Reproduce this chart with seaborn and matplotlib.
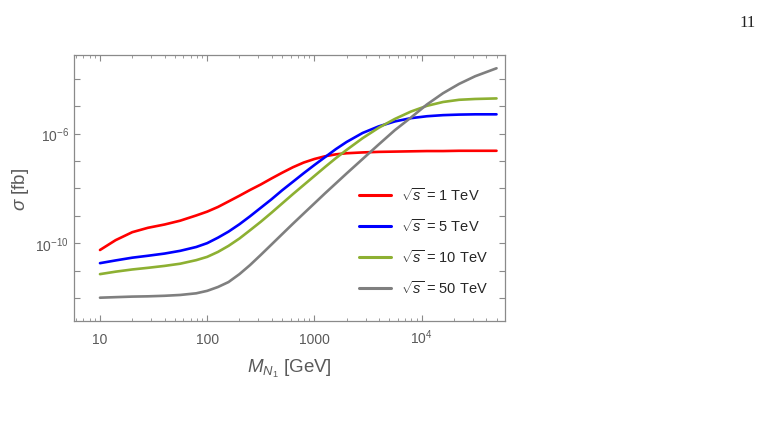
import numpy as np
import pandas as pd
import matplotlib
matplotlib.use("Agg")
import matplotlib.pyplot as plt
import matplotlib.ticker as mticker
import seaborn as sns

# ---- data ----
mass = [10, 14, 20, 28, 40, 56, 79, 100, 126, 158, 200, 251, 316, 398, 501, 631, 794,
        1000, 1259, 1585, 1995, 2818, 3981, 5623, 7943, 11220, 15849, 22387, 31623, 50000]
logsig_1TeV = [-10.25, -9.89, -9.60, -9.44, -9.32, -9.18, -8.99, -8.85, -8.68, -8.48,
               -8.27, -8.06, -7.86, -7.64, -7.43, -7.23, -7.06, -6.93, -6.83, -6.76,
               -6.72, -6.69, -6.67, -6.66, -6.65, -6.64, -6.64, -6.63, -6.63, -6.63]
logsig_5TeV = [-10.73, -10.63, -10.53, -10.46, -10.38, -10.28, -10.14, -10.00, -9.80, -9.58,
               -9.31, -9.02, -8.71, -8.40, -8.07, -7.76, -7.45, -7.15, -6.86, -6.57,
               -6.31, -5.98, -5.74, -5.56, -5.44, -5.37, -5.33, -5.31, -5.30, -5.30]
logsig_10TeV = [-11.13, -11.04, -10.96, -10.90, -10.83, -10.75, -10.62, -10.50, -10.32, -10.10,
                -9.83, -9.53, -9.22, -8.89, -8.55, -8.21, -7.88, -7.55, -7.22, -6.90,
                -6.60, -6.17, -5.79, -5.47, -5.20, -4.99, -4.85, -4.77, -4.74, -4.72]
logsig_50TeV = [-11.99, -11.97, -11.95, -11.94, -11.92, -11.89, -11.83, -11.74, -11.60, -11.42,
                -11.13, -10.80, -10.43, -10.05, -9.67, -9.29, -8.92, -8.55, -8.18, -7.82,
                -7.46, -6.93, -6.40, -5.88, -5.42, -4.94, -4.53, -4.19, -3.91, -3.62]
labels = [r"$\sqrt{s}$ = 1 TeV", r"$\sqrt{s}$ = 5 TeV", r"$\sqrt{s}$ = 10 TeV", r"$\sqrt{s}$ = 50 TeV"]
colors = ["#FF0000", "#0000FF", "#8DB032", "#7F7F7F"]
xtick_vals = [10, 100, 1000, 10000]
xtick_labels = ["10", "100", "1000", r"$10^4$"]
ytick_label_exps = [-6, -10]
ytick_labels = [r"$10^{-6}$", r"$10^{-10}$"]

rows = []
for lab, ls in zip(labels, [logsig_1TeV, logsig_5TeV, logsig_10TeV, logsig_50TeV]):
    for m, v in zip(mass, ls):
        rows.append({"M": m, "sigma": 10.0 ** v, "series": lab})
df = pd.DataFrame(rows)

sns.set_style("ticks")
plt.rcParams["font.family"] = ["Liberation Sans", "DejaVu Sans"]
plt.rcParams["mathtext.fontset"] = "custom"
plt.rcParams["mathtext.rm"] = "Liberation Sans"
plt.rcParams["mathtext.it"] = "Liberation Sans:italic"

fig = plt.figure(figsize=(7.69, 4.27), dpi=100)
ax = fig.add_axes([0.0962, 0.2459, 0.5605, 0.623])

sns.lineplot(data=df, x="M", y="sigma", hue="series", palette=colors,
             linewidth=1.9, ax=ax, legend=True)
ax.set_xscale("log")
ax.set_yscale("log")
ax.set_xlim(5.72, 6.0e4)
ax.set_ylim(10 ** -12.84, 10 ** -3.135)

framec = "#8a8a8a"
for s in ax.spines.values():
    s.set_color(framec)
    s.set_linewidth(0.9)

ax.xaxis.set_major_locator(mticker.FixedLocator(xtick_vals))
ax.xaxis.set_major_formatter(mticker.FixedFormatter(xtick_labels))
ax.xaxis.set_minor_locator(mticker.LogLocator(base=10, subs=np.arange(2, 10), numticks=20))
ax.xaxis.set_minor_formatter(mticker.NullFormatter())


def yfmt(v, p):
    e = int(round(np.log10(v)))
    return ytick_labels[ytick_label_exps.index(e)] if e in ytick_label_exps else ""


ax.yaxis.set_major_locator(mticker.FixedLocator([10.0 ** k for k in range(-12, -3)]))
ax.yaxis.set_major_formatter(mticker.FuncFormatter(yfmt))
ax.yaxis.set_minor_locator(mticker.NullLocator())

ax.tick_params(axis="both", which="major", direction="in", length=4, width=0.8,
               color=framec, labelcolor="#5a5a5a", labelsize=10, top=True, right=True)
ax.tick_params(axis="both", which="minor", direction="in", length=2.5, width=0.6,
               color=framec, top=True, right=True)
ax.tick_params(axis="x", pad=15.5)
for lbl in ax.get_xticklabels():
    lbl.set_verticalalignment("baseline")

ax.set_xlabel(r"$M_{N_1}$ [GeV]", fontsize=13.5, color="#5a5a5a")
ax.xaxis.set_label_coords(0.5, -0.135)
ax.set_ylabel(r"$\sigma$ [fb]", fontsize=13.5, color="#5a5a5a")
ax.yaxis.set_label_coords(-0.1, 0.5)

leg = ax.legend(loc="upper left", bbox_to_anchor=(0.63, 0.555), frameon=False,
                fontsize=10.5, handlelength=2.2, labelspacing=0.95, handletextpad=0.7)
for line in leg.get_lines():
    line.set_linewidth(2.2)

fig.text(0.983, 0.945, "11", ha="right", va="center", fontsize=12,
         family=["Liberation Serif", "DejaVu Serif"], color="#222222")

fig.savefig("out.png", dpi=100)
